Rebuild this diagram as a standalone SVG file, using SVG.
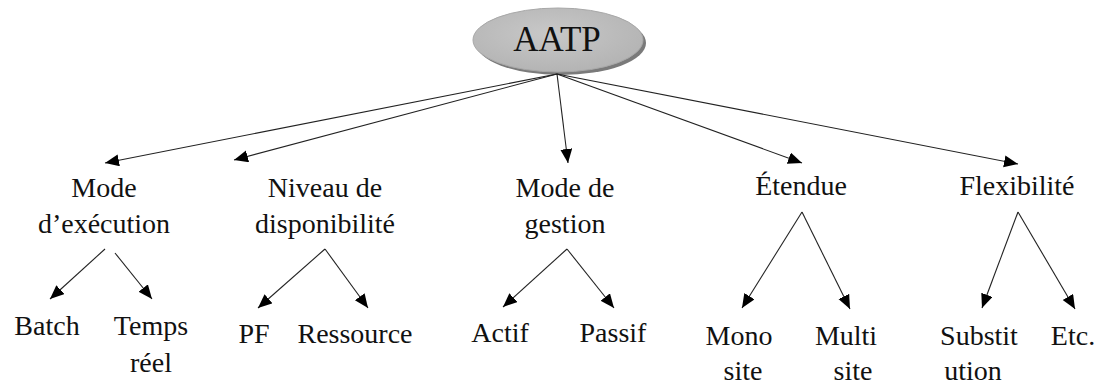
<svg xmlns="http://www.w3.org/2000/svg" width="1099" height="385" viewBox="0 0 1099 385">
<style>
.c line{stroke:#222;stroke-width:1.1;marker-end:url(#ah)}
.t{font-family:'Liberation Serif','Times New Roman',serif;font-size:28px;fill:#111;text-anchor:middle}
</style>
<defs>
<marker id="ah" markerUnits="userSpaceOnUse" markerWidth="16" markerHeight="14" refX="14" refY="6" orient="auto">
<path d="M0,0 L14,6 L0,12 z" fill="#000"/>
</marker>
<radialGradient id="g" cx="0.45" cy="0.4" r="0.6">
<stop offset="0" stop-color="#c8c8c8"/>
<stop offset="1" stop-color="#b4b4b4"/>
</radialGradient>
</defs>
<rect width="1099" height="385" fill="#fff"/>
<g id="root">
<ellipse cx="561" cy="43" rx="85" ry="32" fill="#7a7a7a"/>
<ellipse cx="558" cy="40" rx="85" ry="32" fill="url(#g)" stroke="#a8a8a8" stroke-width="1"/>
<text class="t" x="557" y="51" style="font-size:35px">AATP</text>
</g>
<g id="connectors" class="c">
<line x1="557" y1="74" x2="105" y2="163"/>
<line x1="557" y1="74" x2="234" y2="160"/>
<line x1="557" y1="74" x2="568" y2="163"/>
<line x1="557" y1="74" x2="802" y2="163"/>
<line x1="557" y1="74" x2="1018" y2="164"/>
<line x1="105" y1="249" x2="50" y2="299"/>
<line x1="115" y1="253" x2="152" y2="299"/>
<line x1="325" y1="249" x2="258" y2="308"/>
<line x1="325" y1="249" x2="368" y2="308"/>
<line x1="567" y1="249" x2="503" y2="307"/>
<line x1="567" y1="249" x2="614" y2="308"/>
<line x1="802" y1="212" x2="742" y2="308"/>
<line x1="802" y1="212" x2="850" y2="309"/>
<line x1="1018" y1="212" x2="982" y2="308"/>
<line x1="1018" y1="212" x2="1075" y2="309"/>
</g>
<g id="mode-execution"><text class="t" x="104" y="197">Mode</text><text class="t" x="104" y="233">d’exécution</text></g>
<g id="niveau"><text class="t" x="325" y="197">Niveau de</text><text class="t" x="325" y="233">disponibilité</text></g>
<g id="mode-gestion"><text class="t" x="565" y="197">Mode de</text><text class="t" x="565" y="233">gestion</text></g>
<g id="etendue"><text class="t" x="801" y="195">Étendue</text></g>
<g id="flexibilite"><text class="t" x="1017" y="195">Flexibilité</text></g>
<g id="batch"><text class="t" x="47" y="335">Batch</text></g>
<g id="temps-reel"><text class="t" x="151" y="335">Temps</text><text class="t" x="151" y="372">réel</text></g>
<g id="pf"><text class="t" x="254" y="343">PF</text></g>
<g id="ressource"><text class="t" x="355" y="343">Ressource</text></g>
<g id="actif"><text class="t" x="500" y="342">Actif</text></g>
<g id="passif"><text class="t" x="613" y="342">Passif</text></g>
<g id="mono-site"><text class="t" x="739" y="345">Mono</text><text class="t" x="743" y="380">site</text></g>
<g id="multi-site"><text class="t" x="846" y="345">Multi</text><text class="t" x="853" y="380">site</text></g>
<g id="substitution"><text class="t" x="979" y="345">Substit</text><text class="t" x="973" y="380">ution</text></g>
<g id="etc"><text class="t" x="1073" y="345">Etc.</text></g>
</svg>
